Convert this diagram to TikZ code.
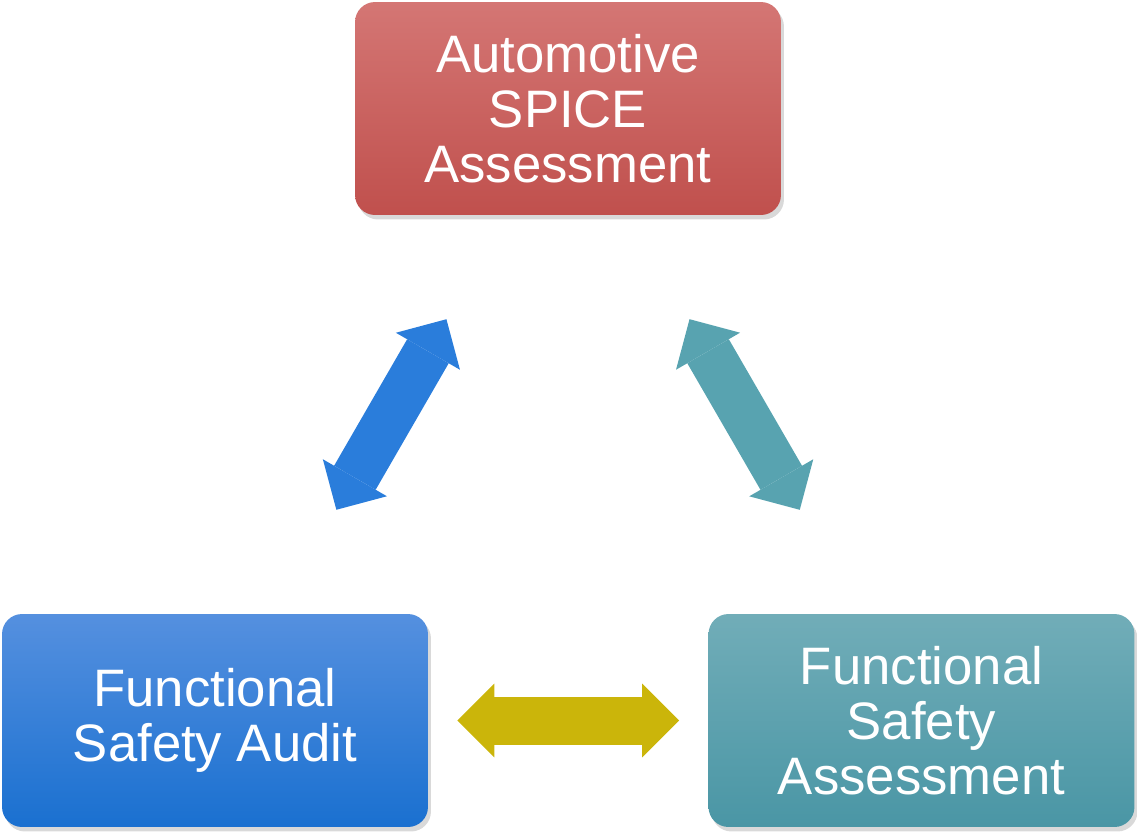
\documentclass[tikz,border=0pt]{standalone}
\usepackage{fontspec}
\setmainfont{Liberation Sans}
\usepackage{tikz}
\usepackage{xcolor}
\usetikzlibrary{arrows.meta,shadows}

\definecolor{spicetop}{HTML}{D47674}
\definecolor{spicebot}{HTML}{C0504D}
\definecolor{audittop}{HTML}{5590DF}
\definecolor{auditbot}{HTML}{1A70D0}
\definecolor{fsatop}{HTML}{71ADB8}
\definecolor{fsabot}{HTML}{4A96A5}
\definecolor{linkyellow}{HTML}{CBB50A}
\definecolor{linkblue}{HTML}{2A7DDB}
\definecolor{linkteal}{HTML}{58A3B0}

\begin{document}
\begin{tikzpicture}[x=0.02cm, y=-0.02cm,
                box/.style={rectangle, rounded corners=0.4cm, minimum width=8.52cm, minimum height=4.26cm,
                    align=center, text=white, font=\fontsize{30}{31.3}\selectfont,
                    drop shadow={opacity=0.3, shadow xshift=0.6mm, shadow yshift=-0.9mm}},
                link/.style={line width=0.96cm,
                    {Triangle[width=1.48cm,length=0.74cm,line width=0pt]}-{Triangle[width=1.48cm,length=0.74cm,line width=0pt]}}]
                \useasboundingbox (0,0) rectangle (1137,832);

                \node[box, top color=spicetop, bottom color=spicebot] (spice) at (568,108.5) {Automotive\\SPICE\\Assessment};
                \node[box, top color=audittop, bottom color=auditbot] (audit) at (215,720.5) {Functional\\Safety Audit};
                \node[box, top color=fsatop, bottom color=fsabot] (fsa) at (921.5,720.5) {Functional\\Safety\\Assessment};

                \draw[link, linkblue, shorten <=2.4cm, shorten >=2.4cm] (audit) -- (spice);
                \draw[link, linkteal, shorten <=2.4cm, shorten >=2.4cm] (spice) -- (fsa);
                \draw[link, linkyellow, shorten <=0.58cm, shorten >=0.58cm] (audit) -- (fsa);
            \end{tikzpicture}
\end{document}
